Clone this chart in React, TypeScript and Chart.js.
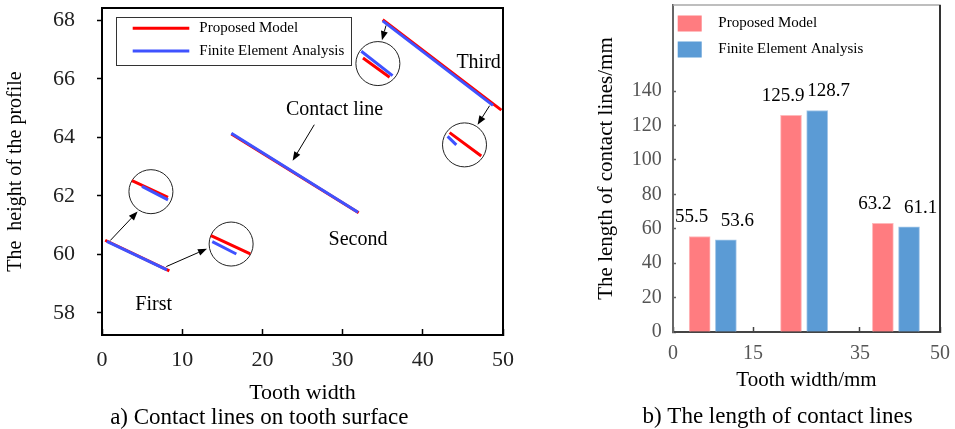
import React, { useEffect, useRef } from 'react';
import { Chart, registerables } from 'chart.js';

Chart.register(...registerables);

const FONT = '"Liberation Serif", "Times New Roman", Times, serif';

// ---------- Shared ----------
const seriesNames = ['Proposed Model', 'Finite Element Analysis'];

// ---------- Left chart: contact lines on tooth surface ----------
const lineColors = ['#FF0000', '#3F52FF'];
const proposedContactLines = [
  [[0.4, 60.48], [8.4, 59.43]],
  [[16.13, 64.11], [32.0, 61.42]],
  [[35.0, 68.02], [49.8, 64.93]],
];
const feaContactLines = [
  [[0.6, 60.44], [8.1, 59.47]],
  [[16.13, 64.14], [31.92, 61.44]],
  [[35.0, 67.98], [48.75, 65.09]],
];
const proposedInsetLines = [
  [[3.74, 62.52], [8.23, 61.95]],
  [[13.59, 60.64], [18.49, 60.01]],
  [[32.54, 66.71], [35.86, 66.05]],
  [[43.34, 64.16], [47.29, 63.36]],
];
const feaInsetLines = [
  [[4.99, 62.32], [8.23, 61.86]],
  [[13.75, 60.43], [16.75, 60.01]],
  [[32.33, 66.94], [36.23, 66.11]],
  [[43.09, 64.03], [44.18, 63.74]],
];
const insetCircleCenters = [
  [6.1, 62.14],
  [16.1, 60.35],
  [34.4, 66.52],
  [45.2, 63.74],
];
const arrowSegments = [
  [[1.03, 60.47], [4.44, 61.46]],
  [[8.02, 59.58], [13.09, 60.19]],
  [[26.47, 64.43], [23.77, 63.2]],
  [[35.41, 67.82], [34.91, 67.32]],
  [[48.33, 65.08], [46.83, 64.43]],
];
const annotationTexts = ['First', 'Second', 'Third', 'Contact line'];
const annotationX = [6.44, 31.92, 46.96, 29.0];
const annotationY = [58.26, 60.51, 66.56, 64.94];
const leftXTicks = [0, 10, 20, 30, 40, 50];
const leftYTicks = [58, 60, 62, 64, 66, 68];

// ---------- Right chart: length of contact lines ----------
const barColors = ['#FF7C80', '#5B9BD5'];
const proposedLengths = [55.5, 125.9, 63.2];
const feaLengths = [53.6, 128.7, 61.1];
const proposedBarX = [5.0, 22.1, 39.3];
const feaBarX = [9.9, 27.0, 44.2];
const rightXTicks = [0, 15, 35, 50];
const rightYTicks = [0, 20, 40, 60, 80, 100, 120, 140];

type Seg = number[][];
function segmentsToPoints(segs: Seg[]) {
  const out: { x: number; y: number | null }[] = [];
  segs.forEach((s, i) => {
    s.forEach(([x, y]) => out.push({ x, y }));
    if (i < segs.length - 1) out.push({ x: s[s.length - 1][0], y: null });
  });
  return out;
}

function fixSize(prop: 'width' | 'height', size: number) {
  return (s: any) => {
    s[prop] = size;
    s.paddingTop = 0;
    s.paddingBottom = 0;
    s.paddingLeft = 0;
    s.paddingRight = 0;
  };
}

// ---------- Plugins ----------
const frameSidesPlugin = {
  id: 'frameSides',
  afterDraw(chart: any, _a: any, opts: any) {
    const { ctx, chartArea: a } = chart;
    ctx.save();
    const sides = opts.sides || {};
    (['top', 'right'] as const).forEach((side) => {
      const s = sides[side];
      if (!s) return;
      ctx.strokeStyle = s.color;
      ctx.lineWidth = s.width;
      ctx.beginPath();
      if (side === 'top') {
        ctx.moveTo(a.left, a.top);
        ctx.lineTo(a.right + s.width / 2, a.top);
      } else {
        ctx.moveTo(a.right, a.top);
        ctx.lineTo(a.right, a.bottom);
      }
      ctx.stroke();
    });
    ctx.restore();
  },
};

const insideLegendPlugin = {
  id: 'insideLegend',
  afterDraw(chart: any, _a: any, opts: any) {
    const { ctx, chartArea } = chart;
    const x0 = chartArea.left + opts.offsetX;
    const y0 = chartArea.top + opts.offsetY;
    ctx.save();
    if (opts.frame) {
      ctx.strokeStyle = opts.frame.color;
      ctx.lineWidth = 1;
      ctx.strokeRect(Math.round(x0) + 0.5, Math.round(y0) + 0.5, opts.frame.width, opts.frame.height);
    }
    ctx.font = `${opts.fontSize}px ${FONT}`;
    ctx.textBaseline = 'middle';
    ctx.textAlign = 'left';
    opts.labels.forEach((label: string, i: number) => {
      const cy = y0 + opts.rowY[i];
      const color = opts.colors[i];
      if (opts.marker === 'line') {
        ctx.strokeStyle = color;
        ctx.lineWidth = 3;
        ctx.beginPath();
        ctx.moveTo(x0 + opts.markerX0, cy);
        ctx.lineTo(x0 + opts.markerX1, cy);
        ctx.stroke();
      } else {
        ctx.fillStyle = color;
        ctx.fillRect(x0 + opts.markerX0, cy - opts.boxH / 2, opts.markerX1 - opts.markerX0, opts.boxH);
      }
      ctx.fillStyle = '#000';
      ctx.fillText(label, x0 + opts.textX, cy);
    });
    ctx.restore();
  },
};

const arrowsPlugin = {
  id: 'arrows',
  afterDatasetsDraw(chart: any, _a: any, opts: any) {
    const { ctx, scales } = chart;
    const xs = scales.x;
    const ys = scales.y;
    ctx.save();
    ctx.strokeStyle = '#000';
    ctx.fillStyle = '#000';
    ctx.lineWidth = 1;
    (opts.arrows || []).forEach(([[x1, y1], [x2, y2]]: number[][]) => {
      const px1 = xs.getPixelForValue(x1);
      const py1 = ys.getPixelForValue(y1);
      const px2 = xs.getPixelForValue(x2);
      const py2 = ys.getPixelForValue(y2);
      const ang = Math.atan2(py2 - py1, px2 - px1);
      const L = 9;
      const W = 3.5;
      const c = Math.cos(ang);
      const s = Math.sin(ang);
      const bx = px2 - L * c;
      const by = py2 - L * s;
      ctx.beginPath();
      ctx.moveTo(px1, py1);
      ctx.lineTo(bx, by);
      ctx.stroke();
      ctx.beginPath();
      ctx.moveTo(px2, py2);
      ctx.lineTo(bx - W * s, by + W * c);
      ctx.lineTo(bx + W * s, by - W * c);
      ctx.closePath();
      ctx.fill();
    });
    ctx.restore();
  },
};

const dataTextPlugin = {
  id: 'dataText',
  afterDatasetsDraw(chart: any, _a: any, opts: any) {
    const { ctx, scales } = chart;
    ctx.save();
    ctx.font = `${opts.fontSize}px ${FONT}`;
    ctx.fillStyle = '#000';
    ctx.textAlign = 'center';
    ctx.textBaseline = 'middle';
    (opts.texts || []).forEach((t: string, i: number) => {
      ctx.fillText(t, scales.x.getPixelForValue(opts.xs[i]), scales.y.getPixelForValue(opts.ys[i]));
    });
    ctx.restore();
  },
};

const barValuePlugin = {
  id: 'barValues',
  afterDatasetsDraw(chart: any, _a: any, opts: any) {
    const { ctx } = chart;
    ctx.save();
    ctx.font = `${opts.fontSize}px ${FONT}`;
    ctx.fillStyle = '#000';
    ctx.textAlign = 'center';
    ctx.textBaseline = 'middle';
    chart.data.datasets.forEach((ds: any, di: number) => {
      const meta = chart.getDatasetMeta(di);
      meta.data.forEach((el: any, i: number) => {
        const v = ds.data[i].y;
        ctx.fillText(v.toFixed(1), el.x + opts.dx[di], el.y - opts.dy);
      });
    });
    ctx.restore();
  },
};

const captionPlugin = {
  id: 'caption',
  afterDraw(chart: any, _a: any, opts: any) {
    const { ctx } = chart;
    ctx.save();
    ctx.font = `${opts.fontSize}px ${FONT}`;
    ctx.fillStyle = '#000';
    ctx.textAlign = 'center';
    ctx.textBaseline = 'middle';
    ctx.fillText(opts.text, opts.x, opts.y);
    ctx.restore();
  },
};

// ---------- Left chart ----------
function LeftChart() {
  const ref = useRef<HTMLCanvasElement | null>(null);
  useEffect(() => {
    if (!ref.current) return;
    const lineDs = (label: string, segs: Seg[], color: string, order: number) => ({
      type: 'line',
      label,
      data: segmentsToPoints(segs),
      borderColor: color,
      backgroundColor: color,
      borderWidth: 3,
      pointRadius: 0,
      spanGaps: false,
      fill: false,
      order,
    });
    const chart = new Chart(ref.current, {
      type: 'line',
      data: {
        datasets: [
          lineDs(seriesNames[1], feaContactLines, lineColors[1], 0),
          lineDs(seriesNames[0], proposedContactLines, lineColors[0], 1),
          lineDs(seriesNames[1], feaInsetLines, lineColors[1], 2),
          lineDs(seriesNames[0], proposedInsetLines, lineColors[0], 3),
          {
            type: 'line',
            label: 'inset',
            data: insetCircleCenters.map(([x, y]) => ({ x, y })),
            showLine: false,
            pointRadius: 22,
            pointHoverRadius: 22,
            pointBorderColor: '#222',
            pointBorderWidth: 1,
            pointBackgroundColor: 'rgba(0,0,0,0)',
            order: 4,
          },
        ] as any,
      },
      options: {
        responsive: false,
        animation: false,
        events: [],
        layout: { autoPadding: false, padding: { left: 0, right: 17, top: 8, bottom: 0 } },
        plugins: {
          legend: { display: false },
          tooltip: { enabled: false },
          frameSides: {
            sides: { top: { color: '#000', width: 2 }, right: { color: '#000', width: 2 } },
          },
          insideLegend: {
            offsetX: 13.7,
            offsetY: 9.3,
            frame: { color: '#333', width: 235, height: 48 },
            fontSize: 15,
            marker: 'line',
            markerX0: 17,
            markerX1: 73.6,
            textX: 83.6,
            rowY: [11, 33.7],
            labels: seriesNames,
            colors: lineColors,
          },
          arrows: { arrows: arrowSegments },
          dataText: { fontSize: 20, texts: annotationTexts, xs: annotationX, ys: annotationY },
          caption: { text: 'a) Contact lines on tooth surface', x: 259.3, y: 418, fontSize: 23 },
        } as any,
        scales: {
          x: {
            type: 'linear',
            min: 0,
            max: 50,
            afterBuildTicks: (s: any) => {
              s.ticks = leftXTicks.map((v) => ({ value: v }));
            },
            afterFit: fixSize('height', 94),
            grid: { drawOnChartArea: false, drawTicks: true, tickLength: -6, tickColor: '#000', tickWidth: 1.5 },
            border: { color: '#000', width: 2 },
            ticks: { font: { family: FONT, size: 22 }, color: '#222', padding: 18.5, maxRotation: 0, autoSkip: false },
            title: {
              display: true,
              text: 'Tooth width',
              font: { family: FONT, size: 22 },
              color: '#000',
              padding: { top: 0, bottom: 22.8 },
            },
          },
          y: {
            type: 'linear',
            min: 57.24,
            max: 68.42,
            afterBuildTicks: (s: any) => {
              s.ticks = leftYTicks.map((v) => ({ value: v }));
            },
            afterFit: fixSize('width', 102),
            grid: { drawOnChartArea: false, drawTicks: true, tickLength: 5, tickColor: '#000', tickWidth: 1.5 },
            border: { color: '#000', width: 2 },
            ticks: { font: { family: FONT, size: 22 }, color: '#222', padding: 22, autoSkip: false },
            title: {
              display: true,
              text: 'The  height of the profile',
              font: { family: FONT, size: 20 },
              color: '#000',
              padding: { top: 4, bottom: 0 },
            },
          },
        } as any,
      },
      plugins: [frameSidesPlugin, insideLegendPlugin, arrowsPlugin, dataTextPlugin, captionPlugin],
    } as any);
    return () => chart.destroy();
  }, []);
  return (
    <canvas
      ref={ref}
      width={520}
      height={429}
      style={{ position: 'absolute', left: 0, top: 0, width: 520, height: 429 }}
    />
  );
}

// ---------- Right chart ----------
function RightChart() {
  const ref = useRef<HTMLCanvasElement | null>(null);
  useEffect(() => {
    if (!ref.current) return;
    const chart = new Chart(ref.current, {
      type: 'bar',
      data: {
        datasets: [
          {
            label: seriesNames[0],
            data: proposedBarX.map((x, i) => ({ x, y: proposedLengths[i] })),
            backgroundColor: barColors[0],
            borderColor: '#FFB8BA',
            borderWidth: 1,
            grouped: false,
            barThickness: 21,
          },
          {
            label: seriesNames[1],
            data: feaBarX.map((x, i) => ({ x, y: feaLengths[i] })),
            backgroundColor: barColors[1],
            borderColor: '#A3C6E8',
            borderWidth: 1,
            grouped: false,
            barThickness: 21,
          },
        ] as any,
      },
      options: {
        responsive: false,
        animation: false,
        events: [],
        layout: { autoPadding: false, padding: { left: 0, right: 15, top: 5, bottom: 0 } },
        plugins: {
          legend: { display: false },
          tooltip: { enabled: false },
          frameSides: {
            sides: { top: { color: '#A8A8A8', width: 1.5 }, right: { color: '#333', width: 2 } },
          },
          insideLegend: {
            offsetX: 0,
            offsetY: 0,
            fontSize: 15,
            marker: 'box',
            markerX0: 4.7,
            markerX1: 28.7,
            boxH: 16,
            textX: 45.3,
            rowY: [18.5, 44.5],
            labels: seriesNames,
            colors: barColors,
          },
          barValues: { fontSize: 19, dx: [-8, 11.5], dy: 19 },
          caption: { text: 'b) The length of contact lines', x: 187.5, y: 416.7, fontSize: 23 },
        } as any,
        scales: {
          x: {
            type: 'linear',
            min: 0,
            max: 50,
            offset: false,
            afterBuildTicks: (s: any) => {
              s.ticks = rightXTicks.map((v) => ({ value: v }));
            },
            afterFit: fixSize('height', 97),
            grid: { offset: false, drawOnChartArea: false, drawTicks: true, tickLength: -5, tickColor: '#444', tickWidth: 1.5 },
            border: { color: '#444', width: 2 },
            ticks: { font: { family: FONT, size: 20 }, color: '#555', padding: 14.3, maxRotation: 0, autoSkip: false },
            title: {
              display: true,
              text: 'Tooth width/mm',
              font: { family: FONT, size: 21 },
              color: '#000',
              padding: { top: 0, bottom: 36.4 },
            },
          },
          y: {
            type: 'linear',
            min: 0,
            max: 190,
            afterBuildTicks: (s: any) => {
              s.ticks = rightYTicks.map((v) => ({ value: v }));
            },
            afterFit: fixSize('width', 83),
            grid: { drawOnChartArea: false, drawTicks: true, tickLength: -3, tickColor: '#666', tickWidth: 1.5 },
            border: { color: '#666', width: 2 },
            ticks: { font: { family: FONT, size: 20 }, color: '#555', padding: 14.3, autoSkip: false },
            title: {
              display: true,
              text: 'The length of contact lines/mm',
              font: { family: FONT, size: 21 },
              color: '#000',
              padding: { top: 3.4, bottom: 0 },
            },
          },
        } as any,
      },
      plugins: [frameSidesPlugin, insideLegendPlugin, barValuePlugin, captionPlugin],
    } as any);
    return () => chart.destroy();
  }, []);
  return (
    <canvas
      ref={ref}
      width={365}
      height={429}
      style={{ position: 'absolute', left: 590, top: 0, width: 365, height: 429 }}
    />
  );
}

export default function App() {
  return (
    <div
      style={{
        position: 'absolute',
        left: 0,
        top: 0,
        width: 955,
        height: 429,
        overflow: 'hidden',
        background: '#fff',
      }}
    >
      <LeftChart />
      <RightChart />
    </div>
  );
}
